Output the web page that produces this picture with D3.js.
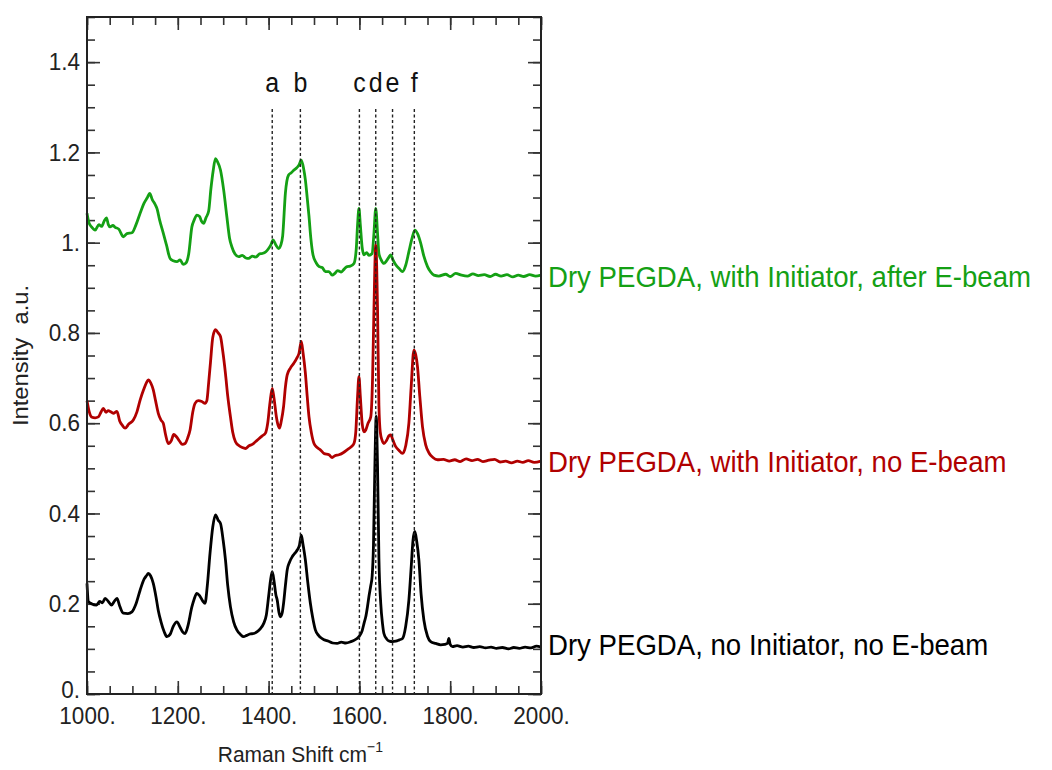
<!DOCTYPE html>
<html>
<head>
<meta charset="utf-8">
<script src="https://cdn.jsdelivr.net/npm/d3@7"></script>
<style>
  html, body { margin: 0; padding: 0; background: #fff; }
  svg text { font-family: "Liberation Sans", Arial, sans-serif; }
</style>
</head>
<body>
<div id="chart"></div>
<script>
// Raman spectra of dry PEGDA
// [shift cm^-1, intensity a.u.]

const greenPts = [
  [1000,1.065],[1004,1.045],[1010,1.035],[1018,1.028],[1026,1.040],[1032,1.036],[1038,1.048],[1043,1.055],[1047,1.040],[1051,1.035],
  [1057,1.038],[1062,1.034],[1070,1.030],[1080,1.013],[1088,1.020],[1099,1.022],[1108,1.040],[1117,1.065],[1126,1.088],[1133,1.100],
  [1138,1.109],[1144,1.095],[1150,1.085],[1154,1.076],[1160,1.050],[1168,1.021],[1175,0.995],[1183,0.965],[1190,0.960],[1198,0.958],
  [1205,0.962],[1212,0.952],[1218,0.955],[1224,0.975],[1231,1.035],[1236,1.050],[1242,1.061],[1248,1.058],[1252,1.048],[1257,1.043],
  [1262,1.055],[1268,1.070],[1273,1.120],[1278,1.160],[1283,1.186],[1287,1.180],[1294,1.161],[1301,1.117],[1308,1.058],[1314,1.010],
  [1319,0.991],[1326,0.975],[1334,0.969],[1342,0.972],[1350,0.966],[1356,0.965],[1364,0.970],[1372,0.968],[1380,0.975],[1386,0.976],
  [1394,0.980],[1400,0.987],[1405,0.995],[1410,1.006],[1416,0.995],[1422,0.987],[1427,0.995],[1431,1.015],[1437,1.110],[1444,1.150],
  [1450,1.155],[1456,1.161],[1462,1.166],[1467,1.172],[1472,1.183],[1477,1.165],[1481,1.139],[1485,1.100],[1489,1.058],[1493,1.010],
  [1498,0.972],[1505,0.955],[1511,0.947],[1518,0.945],[1525,0.936],[1533,0.936],[1540,0.928],[1546,0.932],[1552,0.938],[1560,0.935],
  [1567,0.942],[1573,0.947],[1580,0.948],[1588,0.954],[1593,0.985],[1596,1.040],[1599,1.076],[1602,1.040],[1606,0.990],[1610,0.973],
  [1616,0.978],[1621,0.972],[1628,0.976],[1632,1.020],[1636,1.076],[1640,1.020],[1643,0.976],[1648,0.962],[1654,0.954],[1660,0.960],
  [1665,0.968],[1669,0.973],[1674,0.962],[1680,0.951],[1688,0.942],[1695,0.936],[1702,0.950],[1709,0.980],[1716,1.010],[1722,1.028],
  [1728,1.020],[1735,0.999],[1742,0.970],[1750,0.947],[1757,0.935],[1764,0.928],[1775,0.926],[1790,0.930],[1800,0.925],[1812,0.932],
  [1825,0.928],[1838,0.926],[1850,0.931],[1862,0.927],[1875,0.929],[1888,0.925],[1900,0.930],[1912,0.926],[1925,0.929],[1938,0.924],
  [1950,0.928],[1962,0.925],[1975,0.929],[1988,0.926],[2000,0.928]
];

const redPts = [
  [1000,0.650],[1005,0.625],[1010,0.614],[1018,0.612],[1025,0.614],[1031,0.625],[1036,0.633],[1042,0.624],[1047,0.628],[1051,0.626],
  [1058,0.622],[1066,0.626],[1072,0.605],[1078,0.595],[1084,0.589],[1092,0.598],[1102,0.607],[1110,0.625],[1117,0.651],[1125,0.675],
  [1131,0.690],[1135,0.696],[1141,0.688],[1146,0.674],[1151,0.650],[1157,0.622],[1163,0.607],[1168,0.600],[1173,0.575],[1179,0.555],
  [1186,0.562],[1191,0.575],[1197,0.570],[1204,0.560],[1210,0.553],[1216,0.555],[1222,0.568],[1227,0.585],[1233,0.625],[1238,0.644],
  [1245,0.650],[1253,0.648],[1260,0.644],[1264,0.650],[1268,0.690],[1272,0.735],[1277,0.790],[1283,0.807],[1289,0.800],[1294,0.792],
  [1299,0.760],[1305,0.710],[1310,0.660],[1316,0.614],[1321,0.580],[1327,0.559],[1335,0.550],[1342,0.546],[1349,0.544],[1357,0.550],
  [1364,0.553],[1371,0.559],[1378,0.565],[1386,0.572],[1393,0.578],[1398,0.600],[1403,0.645],[1408,0.677],[1412,0.655],[1417,0.615],
  [1421,0.595],[1424,0.589],[1428,0.605],[1433,0.637],[1437,0.680],[1441,0.707],[1448,0.722],[1455,0.732],[1461,0.742],[1467,0.755],
  [1472,0.781],[1476,0.755],[1481,0.711],[1485,0.660],[1489,0.614],[1494,0.580],[1500,0.555],[1507,0.546],[1514,0.541],[1522,0.533],
  [1533,0.530],[1540,0.524],[1546,0.528],[1555,0.530],[1565,0.535],[1573,0.541],[1582,0.548],[1588,0.555],[1592,0.580],[1596,0.660],
  [1599,0.703],[1602,0.660],[1606,0.600],[1610,0.581],[1614,0.585],[1619,0.600],[1625,0.614],[1629,0.700],[1632,0.850],[1636,0.995],
  [1640,0.850],[1643,0.640],[1646,0.580],[1650,0.562],[1654,0.555],[1660,0.562],[1665,0.572],[1669,0.574],[1674,0.562],[1680,0.548],
  [1687,0.540],[1695,0.533],[1702,0.550],[1709,0.600],[1714,0.680],[1720,0.762],[1724,0.752],[1728,0.725],[1733,0.660],[1739,0.592],
  [1746,0.552],[1754,0.533],[1762,0.524],[1772,0.519],[1785,0.520],[1798,0.516],[1810,0.519],[1822,0.515],[1835,0.521],[1848,0.517],
  [1860,0.520],[1872,0.515],[1885,0.518],[1898,0.520],[1910,0.514],[1922,0.516],[1935,0.512],[1948,0.516],[1960,0.513],[1972,0.517],
  [1985,0.513],[2000,0.516]
];

const blackPts = [
  [1000,0.245],[1003,0.205],[1010,0.200],[1021,0.197],[1028,0.205],[1034,0.202],[1040,0.212],[1047,0.205],[1054,0.197],[1060,0.205],
  [1066,0.212],[1072,0.195],[1080,0.179],[1090,0.178],[1099,0.182],[1108,0.200],[1117,0.230],[1126,0.255],[1131,0.262],[1135,0.267],
  [1140,0.262],[1146,0.245],[1152,0.215],[1157,0.185],[1163,0.160],[1170,0.138],[1176,0.127],[1183,0.132],[1190,0.150],[1198,0.160],
  [1205,0.148],[1211,0.137],[1216,0.134],[1222,0.150],[1231,0.193],[1236,0.210],[1242,0.223],[1248,0.218],[1255,0.206],[1260,0.201],
  [1265,0.240],[1271,0.312],[1277,0.370],[1283,0.397],[1289,0.385],[1294,0.378],[1300,0.340],[1305,0.297],[1310,0.240],[1316,0.193],
  [1323,0.160],[1330,0.142],[1338,0.132],[1345,0.127],[1352,0.130],[1360,0.133],[1367,0.134],[1375,0.138],[1382,0.145],[1389,0.156],
  [1395,0.175],[1400,0.216],[1404,0.250],[1408,0.271],[1412,0.250],[1416,0.220],[1419,0.208],[1423,0.180],[1426,0.171],[1430,0.180],
  [1433,0.201],[1437,0.240],[1441,0.275],[1446,0.292],[1452,0.304],[1458,0.312],[1463,0.319],[1468,0.330],[1472,0.352],[1476,0.330],
  [1481,0.297],[1486,0.250],[1492,0.201],[1497,0.170],[1503,0.142],[1510,0.130],[1516,0.124],[1522,0.120],[1532,0.117],[1541,0.113],
  [1551,0.112],[1560,0.115],[1570,0.113],[1581,0.116],[1590,0.120],[1599,0.127],[1606,0.140],[1611,0.160],[1614,0.171],[1618,0.195],
  [1621,0.216],[1625,0.240],[1628,0.260],[1631,0.330],[1634,0.500],[1637,0.615],[1640,0.500],[1643,0.300],[1647,0.201],[1651,0.155],
  [1654,0.134],[1660,0.122],[1666,0.117],[1673,0.116],[1680,0.117],[1688,0.120],[1695,0.123],[1702,0.150],[1709,0.208],[1714,0.280],
  [1718,0.340],[1722,0.360],[1726,0.340],[1731,0.297],[1736,0.220],[1742,0.164],[1750,0.128],[1757,0.116],[1768,0.112],[1779,0.109],
  [1788,0.110],[1794,0.112],[1797,0.123],[1800,0.110],[1805,0.105],[1815,0.107],[1828,0.104],[1840,0.106],[1852,0.103],[1865,0.105],
  [1878,0.102],[1890,0.104],[1902,0.101],[1915,0.103],[1928,0.100],[1940,0.103],[1952,0.101],[1965,0.104],[1978,0.102],[1990,0.106],
  [2000,0.104]
];

const seriesNames  = ['Dry PEGDA, with Initiator, after E-beam', 'Dry PEGDA, with Initiator, no E-beam', 'Dry PEGDA, no Initiator, no E-beam'];
const seriesColors = ['#14a014', '#b00000', '#000000'];

const peakLetters = ['a', 'b', 'c', 'd', 'e', 'f'];
const peakShifts  = [1408, 1470, 1600, 1636, 1673, 1721];

const xMajor = [1000, 1200, 1400, 1600, 1800, 2000];
const yMajor = [0, 0.2, 0.4, 0.6, 0.8, 1.0, 1.2, 1.4];

// ---- layout
const W = 1052, H = 770;
const m = { left: 87, right: 511, top: 17, bottom: 76 };
const pw = W - m.left - m.right, ph = H - m.top - m.bottom;
const STRETCH = 1.08;   // original figure text is a touch taller than wide

const svg = d3.select('#chart').append('svg').attr('width', W).attr('height', H);
const g = svg.append('g').attr('transform', `translate(${m.left},${m.top})`);

const x = d3.scaleLinear().domain([1000, 2000]).range([0, pw]);
const y = d3.scaleLinear().domain([0, 1.5]).range([ph, 0]);

const xMinor = d3.range(1000, 2001, 50);
const yMinor = d3.range(0, 31).map(i => i * 0.05);

// Mathematica-style labels: "1000.", "0.", "1.", "0.2"
const fmt = v => Math.abs(v - Math.round(v)) < 1e-9 ? Math.round(v) + '.' : v.toFixed(1);

function styleAxis(sel) {
  sel.select('.domain').remove();
  sel.selectAll('.tick line').attr('stroke', '#333').attr('stroke-width', 1.6);
  sel.selectAll('.tick text').attr('font-size', 22.5).attr('fill', '#222')
    .attr('transform', `scale(1,${STRETCH})`)
    .style('font-family', '"Liberation Sans", Arial, sans-serif');
}

// minor ticks (inward, all four sides)
g.append('g').attr('transform', `translate(0,${ph})`)
  .call(d3.axisBottom(x).tickValues(xMinor).tickSize(-8).tickFormat('')).call(styleAxis);
g.append('g')
  .call(d3.axisTop(x).tickValues(xMinor).tickSize(-8).tickFormat('')).call(styleAxis);
g.append('g')
  .call(d3.axisLeft(y).tickValues(yMinor).tickSize(-8).tickFormat('')).call(styleAxis);
g.append('g').attr('transform', `translate(${pw},0)`)
  .call(d3.axisRight(y).tickValues(yMinor).tickSize(-8).tickFormat('')).call(styleAxis);

// major ticks + labels
g.append('g').attr('transform', `translate(0,${ph})`)
  .call(d3.axisBottom(x).tickValues(xMajor).tickSize(-13).tickPadding(12).tickFormat(fmt)).call(styleAxis);
g.append('g')
  .call(d3.axisTop(x).tickValues(xMajor).tickSize(-13).tickFormat('')).call(styleAxis);
const yAx = g.append('g')
  .call(d3.axisLeft(y).tickValues(yMajor).tickSize(-13).tickPadding(7).tickFormat(fmt)).call(styleAxis);
// "0." sits a little above the corner, as in the original
yAx.selectAll('.tick').filter(d => d === 0).select('text').attr('y', -4);
g.append('g').attr('transform', `translate(${pw},0)`)
  .call(d3.axisRight(y).tickValues(yMajor).tickSize(-13).tickFormat('')).call(styleAxis);

// spectra
const line = d3.line().x(d => x(d[0])).y(d => y(d[1])).curve(d3.curveMonotoneX);
const allPts = [greenPts, redPts, blackPts];
allPts.forEach((pts, i) => {
  g.append('path').datum(pts)
    .attr('fill', 'none')
    .attr('stroke', seriesColors[i])
    .attr('stroke-width', 2.8)
    .attr('stroke-linejoin', 'round')
    .attr('d', line);
});

// peak markers
const peakTop = y(1.296);
g.append('g').selectAll('line').data(peakShifts).join('line')
  .attr('x1', d => x(d)).attr('x2', d => x(d))
  .attr('y1', peakTop).attr('y2', ph)
  .attr('stroke', '#222').attr('stroke-width', 1.4)
  .attr('stroke-dasharray', '3,2.5');

g.append('g').selectAll('text').data(peakShifts).join('text')
  .attr('transform', d => `translate(${x(d)},${y(1.333)}) scale(1,${STRETCH})`)
  .attr('text-anchor', 'middle')
  .attr('font-size', 25)
  .attr('fill', '#111')
  .text((d, i) => peakLetters[i]);

// frame
g.append('rect').attr('width', pw).attr('height', ph)
  .attr('fill', 'none').attr('stroke', '#222').attr('stroke-width', 2);

// series labels to the right of the frame, level with each spectrum's tail
const labelDy = [12, 11, 8];
g.append('g').selectAll('text').data(seriesNames).join('text')
  .attr('transform', (d, i) => {
    const last = allPts[i][allPts[i].length - 1];
    return `translate(${pw + 7},${y(last[1]) + labelDy[i]}) scale(1,${STRETCH})`;
  })
  .attr('font-size', 27.6)
  .attr('fill', (d, i) => seriesColors[i])
  .text(d => d);

// axis titles
g.append('text')
  .attr('transform', `translate(-59,${y(0.75)}) scale(1,${STRETCH}) rotate(-90)`)
  .attr('text-anchor', 'middle')
  .attr('font-size', 22)
  .attr('fill', '#222')
  .text('Intensity\u00a0\u00a0a.u.');

const xt = g.append('text')
  .attr('transform', `translate(${x(1470)},${ph + 68}) scale(1,${STRETCH})`)
  .attr('text-anchor', 'middle')
  .attr('font-size', 21)
  .attr('fill', '#222');
xt.append('tspan').text('Raman Shift cm');
xt.append('tspan').attr('dy', -9).attr('font-size', 14).text('\u22121');
</script>
</body>
</html>
